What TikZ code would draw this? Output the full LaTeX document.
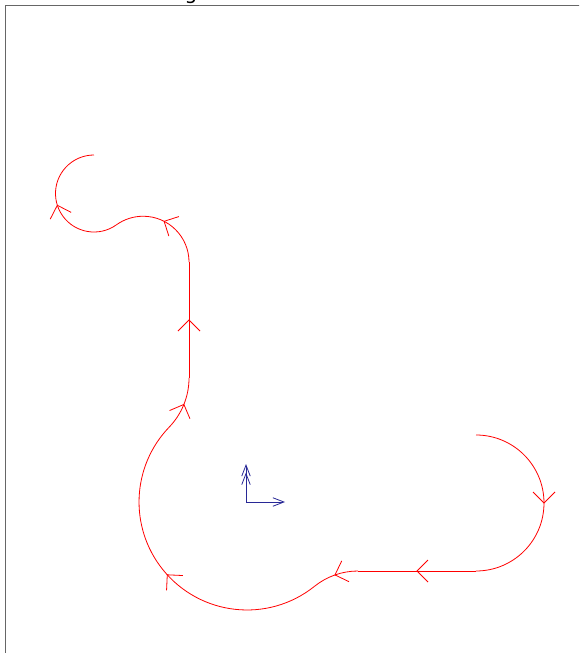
\documentclass[tikz,border=0pt]{standalone}
\usepackage{fontspec}
\newfontfamily\titlefont{DejaVu Sans}
\usetikzlibrary{arrows.meta,decorations.markings}
\definecolor{routered}{RGB}{255,0,0}
\definecolor{axisblue}{RGB}{40,40,150}

\begin{document}
\begin{tikzpicture}[x=1pt, y=1pt,
  route/.style={routered, line width=0.8pt},
  midhead/.style={postaction={decorate, decoration={markings,
      mark=at position 0.5 with {\draw[routered, line width=0.8pt] (-11pt,-11pt) -- (0pt,0pt) -- (-11pt,11pt);}}}},
  frameline/.style={black!60, line width=1pt},
  axis/.style={axisblue, line width=0.8pt},
  barb/.style={-{Straight Barb[length=11pt,width=8.5pt]}},
  dblbarb/.style={-{Straight Barb[length=11pt,width=8.5pt,sep=-4pt]Straight Barb[length=11pt,width=8.5pt]}}]

\useasboundingbox (0,0) rectangle (579,-653);
\clip (0,0) rectangle (579,-653);

%--------------------
% Frame and title
%--------------------
\draw[frameline] (5,-5) rectangle (700,-720);
\node[font=\titlefont\fontsize{20}{24}\selectfont, anchor=base, inner sep=0pt] (title) at (191,0.5) {g};

%--------------------
% Route: arcs and straights, one head at the middle of each piece
%--------------------
\coordinate (p0) at (476,-435);  % start
\coordinate (p2) at (358,-571);  % end of lower straight

\draw[route, midhead] (p0) arc[start angle=90, end angle=-90, radius=68] coordinate (p1);
\draw[route, midhead] (p1) -- (p2);
\draw[route, midhead] (p2) arc[start angle=90, end angle=128.7, radius=69.5] coordinate (p3);
\draw[route, midhead] (p3) arc[start angle=-51.3, end angle=-223.9, radius=108] coordinate (p4);
\draw[route, midhead] (p4) arc[start angle=-43.9, end angle=0, radius=70.9] coordinate (p5);
\draw[route, midhead] (p5) -- ++(0,115.8) coordinate (p6);
\draw[route, midhead] (p6) arc[start angle=0, end angle=125.6, radius=45.9] coordinate (p7);
\draw[route, midhead] (p7) arc[start angle=-54.4, end angle=-270, radius=38.5] coordinate (p8);

%--------------------
% Axes at the origin
%--------------------
\coordinate (origin) at (246,-502);
\coordinate (xend) at (285,-502);
\coordinate (yend) at (246,-464);

\draw[axis, barb] (origin) -- (xend);
\draw[axis, dblbarb] (origin) -- (yend);

\end{tikzpicture}
\end{document}
